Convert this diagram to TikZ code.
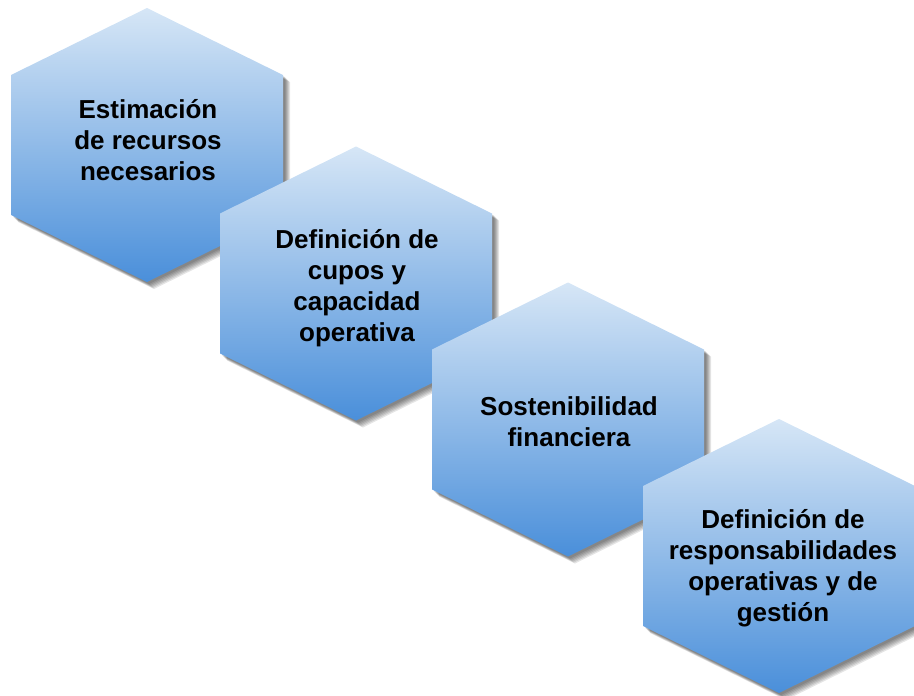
\documentclass[tikz,border=0pt]{standalone}
\usepackage{fontspec}
\setmainfont{Liberation Sans}
\definecolor{hextop}{HTML}{D6E6F6}
\definecolor{hexbot}{HTML}{4A8FDA}
\tikzset{
  hexfill/.style={top color=hextop, bottom color=hexbot, draw=none},
  hexshadow/.style={fill=black, fill opacity=0.1, draw=none},
  hextext/.style={align=center, font=\fontsize{26}{31}\selectfont\bfseries, text=black, inner sep=0pt}
}
\newcommand{\hexpath}[2]{(#1,{-(#2-137)}) -- ({#1+136},{-(#2-70)}) -- ({#1+136},{-(#2+70)}) -- (#1,{-(#2+137)}) -- ({#1-136},{-(#2+70)}) -- ({#1-136},{-(#2-70)}) -- cycle}
\newcommand{\hexdraw}[2]{%
  \foreach \s in {2,3,4,5,6,7}{\fill[hexshadow,shift={(\s pt,-\s pt)}] \hexpath{#1}{#2};}
  \shade[hexfill] \hexpath{#1}{#2};
}
\begin{document}
\begin{tikzpicture}[x=1pt,y=1pt]
\useasboundingbox (0,0) rectangle (914,-696);
\hexdraw{147}{145}
\node[hextext] (h1) at (148,-140) {Estimación\\de recursos\\necesarios};
\hexdraw{356}{283.5}
\node[hextext] (h2) at (357,-288) {Definición de\\cupos y\\capacidad\\operativa};
\hexdraw{568}{419.5}
\node[hextext] (h3) at (569,-422) {Sostenibilidad\\financiera};
\hexdraw{779}{556}
\node[hextext] (h4) at (783,-568) {Definición de\\responsabilidades\\operativas y de\\gestión};
\end{tikzpicture}
\end{document}
